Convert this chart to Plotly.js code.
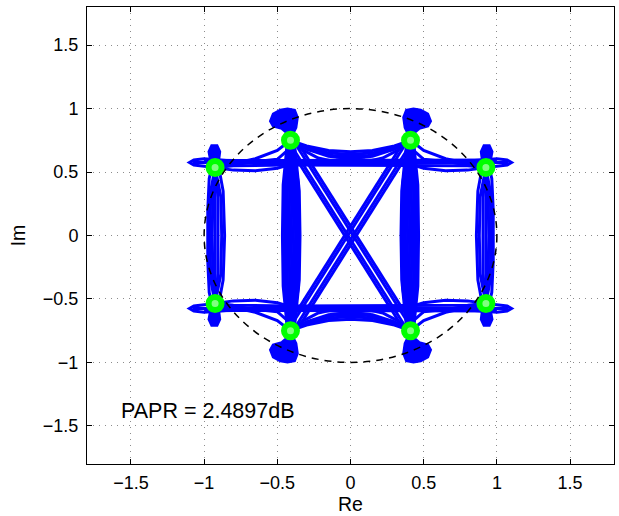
<!DOCTYPE html>
<html>
<head>
<meta charset="utf-8">
<script src="https://cdn.plot.ly/plotly-3.0.1.min.js"></script>
<style>
html,body{margin:0;padding:0;background:#fff;}
#chart{width:619px;height:516px;}
</style>
</head>
<body>
<div id="chart"></div>
<script>
// Constellation (symbol) points
const symbolRe = [-0.925, -0.41, 0.41, 0.925, -0.925, -0.41, 0.41, 0.925];
const symbolIm = [0.535, 0.75, 0.75, 0.535, -0.535, -0.75, -0.75, -0.535];

// Trajectory bundles (segments separated by null)
const innerVertRe = [
 -0.44,-0.43,-0.46,-0.465,-0.46,-0.43,-0.44,null,
 -0.42,-0.42,-0.445,-0.45,-0.445,-0.42,-0.42,null,
 -0.41,-0.43,-0.435,-0.43,-0.41,null,
 -0.40,-0.41,-0.415,-0.42,-0.415,-0.41,-0.40,null,
 -0.41,-0.40,-0.405,-0.40,-0.41,null,
 -0.39,-0.40,-0.385,-0.39,-0.385,-0.40,-0.39,null,
 -0.41,-0.37,-0.375,-0.37,-0.41,null,
 -0.40,-0.355,-0.36,-0.355,-0.40,null,
 -0.385,-0.35,-0.345,-0.35,-0.385,null,
 0.44,0.43,0.46,0.465,0.46,0.43,0.44,null,
 0.42,0.42,0.445,0.45,0.445,0.42,0.42,null,
 0.41,0.43,0.435,0.43,0.41,null,
 0.40,0.41,0.415,0.42,0.415,0.41,0.40,null,
 0.41,0.40,0.405,0.40,0.41,null,
 0.39,0.40,0.385,0.39,0.385,0.40,0.39,null,
 0.41,0.37,0.375,0.37,0.41,null,
 0.40,0.355,0.36,0.355,0.40,null,
 0.385,0.35,0.345,0.35,0.385
];
const innerVertIm = [
 0.92,0.75,0.4,0,-0.4,-0.75,-0.92,null,
 0.96,0.75,0.4,0,-0.4,-0.75,-0.96,null,
 0.75,0.4,0,-0.4,-0.75,null,
 0.90,0.75,0.4,0,-0.4,-0.75,-0.90,null,
 0.75,0.4,0,-0.4,-0.75,null,
 0.95,0.75,0.4,0,-0.4,-0.75,-0.95,null,
 0.75,0.4,0,-0.4,-0.75,null,
 0.75,0.4,0,-0.4,-0.75,null,
 0.75,0.35,0,-0.35,-0.75,null,
 0.92,0.75,0.4,0,-0.4,-0.75,-0.92,null,
 0.96,0.75,0.4,0,-0.4,-0.75,-0.96,null,
 0.75,0.4,0,-0.4,-0.75,null,
 0.90,0.75,0.4,0,-0.4,-0.75,-0.90,null,
 0.75,0.4,0,-0.4,-0.75,null,
 0.95,0.75,0.4,0,-0.4,-0.75,-0.95,null,
 0.75,0.4,0,-0.4,-0.75,null,
 0.75,0.4,0,-0.4,-0.75,null,
 0.75,0.35,0,-0.35,-0.75
];

const outerVertRe = [
 -0.93,-0.965,-0.975,-0.975,-0.965,-0.93,null,
 -0.925,-0.955,-0.96,-0.955,-0.925,null,
 -0.925,-0.94,-0.945,-0.94,-0.925,null,
 -0.925,-0.925,-0.925,null,
 -0.925,-0.905,-0.905,-0.905,-0.925,null,
 -0.925,-0.885,-0.88,-0.885,-0.925,null,
 -0.91,-0.87,-0.86,-0.87,-0.91,null,
 0.93,0.965,0.975,0.975,0.965,0.93,null,
 0.925,0.955,0.96,0.955,0.925,null,
 0.925,0.94,0.945,0.94,0.925,null,
 0.925,0.925,0.925,null,
 0.925,0.905,0.905,0.905,0.925,null,
 0.925,0.885,0.88,0.885,0.925,null,
 0.91,0.87,0.86,0.87,0.91
];
const outerVertIm = [
 0.62,0.45,0.2,-0.2,-0.45,-0.62,null,
 0.535,0.35,0,-0.35,-0.535,null,
 0.535,0.3,0,-0.3,-0.535,null,
 0.535,0,-0.535,null,
 0.535,0.3,0,-0.3,-0.535,null,
 0.535,0.3,0,-0.3,-0.535,null,
 0.60,0.35,0,-0.35,-0.60,null,
 0.62,0.45,0.2,-0.2,-0.45,-0.62,null,
 0.535,0.35,0,-0.35,-0.535,null,
 0.535,0.3,0,-0.3,-0.535,null,
 0.535,0,-0.535,null,
 0.535,0.3,0,-0.3,-0.535,null,
 0.535,0.3,0,-0.3,-0.535,null,
 0.60,0.35,0,-0.35,-0.60
];

const horizRe = [
 -1.08,-0.9,-0.41,0,0.41,0.9,1.08,null,
 -0.925,-0.8,-0.41,0,0.41,0.8,0.925,null,
 -1.0,-0.8,-0.41,0,0.41,0.8,1.0,null,
 -0.925,-0.8,-0.65,-0.5,-0.41,null,
 0.925,0.8,0.65,0.5,0.41,null,
 -0.925,-1.0,-1.07,-1.10,-1.07,-1.0,-0.93,-0.85,null,
 0.925,1.0,1.07,1.10,1.07,1.0,0.93,0.85,null,
 -0.41,-0.3,-0.15,0,0.15,0.3,0.41,null,
 -0.41,-0.3,-0.15,0,0.15,0.3,0.41,null,
 -0.41,-0.28,-0.12,0,0.12,0.28,0.41,null,
 -0.41,-0.3,-0.15,0.1,0.4,0.7,0.925,null,
 0.41,0.3,0.15,-0.1,-0.4,-0.7,-0.925,null,
 -0.41,-0.32,-0.22,-0.1,null,
 0.41,0.32,0.22,0.1,null,
 0.41,0.5,0.65,0.8,0.925,null,
 -0.41,-0.5,-0.65,-0.8,-0.925,null,
 -0.925,-0.7,-0.5,-0.44,-0.41,null,
 0.925,0.7,0.5,0.44,0.41,null,
 -1.08,-0.9,-0.41,0,0.41,0.9,1.08,null,
 -0.925,-0.8,-0.41,0,0.41,0.8,0.925,null,
 -1.0,-0.8,-0.41,0,0.41,0.8,1.0,null,
 -0.925,-0.8,-0.65,-0.5,-0.41,null,
 0.925,0.8,0.65,0.5,0.41,null,
 -0.925,-1.0,-1.07,-1.10,-1.07,-1.0,-0.93,-0.85,null,
 0.925,1.0,1.07,1.10,1.07,1.0,0.93,0.85,null,
 -0.41,-0.3,-0.15,0,0.15,0.3,0.41,null,
 -0.41,-0.3,-0.15,0,0.15,0.3,0.41,null,
 -0.41,-0.28,-0.12,0,0.12,0.28,0.41,null,
 -0.41,-0.3,-0.15,0.1,0.4,0.7,0.925,null,
 0.41,0.3,0.15,-0.1,-0.4,-0.7,-0.925,null,
 -0.41,-0.32,-0.22,-0.1,null,
 0.41,0.32,0.22,0.1,null,
 0.41,0.5,0.65,0.8,0.925,null,
 -0.41,-0.5,-0.65,-0.8,-0.925,null,
 -0.925,-0.7,-0.5,-0.44,-0.41,null,
 0.925,0.7,0.5,0.44,0.41
];
const horizIm = [
 0.575,0.575,0.575,0.575,0.575,0.575,0.575,null,
 0.535,0.55,0.555,0.555,0.555,0.55,0.535,null,
 0.595,0.59,0.59,0.59,0.59,0.59,0.595,null,
 0.535,0.515,0.51,0.53,0.56,null,
 0.535,0.515,0.51,0.53,0.56,null,
 0.535,0.545,0.555,0.575,0.595,0.605,0.60,0.59,null,
 0.535,0.545,0.555,0.575,0.595,0.605,0.60,0.59,null,
 0.75,0.705,0.67,0.66,0.67,0.705,0.75,null,
 0.75,0.69,0.65,0.64,0.65,0.69,0.75,null,
 0.75,0.675,0.63,0.622,0.63,0.675,0.75,null,
 0.75,0.68,0.625,0.595,0.585,0.575,0.535,null,
 0.75,0.68,0.625,0.595,0.585,0.575,0.535,null,
 0.75,0.67,0.61,0.58,null,
 0.75,0.67,0.61,0.58,null,
 0.75,0.67,0.605,0.57,0.535,null,
 0.75,0.67,0.605,0.57,0.535,null,
 0.535,0.575,0.60,0.66,0.75,null,
 0.535,0.575,0.60,0.66,0.75,null,
 -0.575,-0.575,-0.575,-0.575,-0.575,-0.575,-0.575,null,
 -0.535,-0.55,-0.555,-0.555,-0.555,-0.55,-0.535,null,
 -0.595,-0.59,-0.59,-0.59,-0.59,-0.59,-0.595,null,
 -0.535,-0.515,-0.51,-0.53,-0.56,null,
 -0.535,-0.515,-0.51,-0.53,-0.56,null,
 -0.535,-0.545,-0.555,-0.575,-0.595,-0.605,-0.60,-0.59,null,
 -0.535,-0.545,-0.555,-0.575,-0.595,-0.605,-0.60,-0.59,null,
 -0.75,-0.705,-0.67,-0.66,-0.67,-0.705,-0.75,null,
 -0.75,-0.69,-0.65,-0.64,-0.65,-0.69,-0.75,null,
 -0.75,-0.675,-0.63,-0.622,-0.63,-0.675,-0.75,null,
 -0.75,-0.68,-0.625,-0.595,-0.585,-0.575,-0.535,null,
 -0.75,-0.68,-0.625,-0.595,-0.585,-0.575,-0.535,null,
 -0.75,-0.67,-0.61,-0.58,null,
 -0.75,-0.67,-0.61,-0.58,null,
 -0.75,-0.67,-0.605,-0.57,-0.535,null,
 -0.75,-0.67,-0.605,-0.57,-0.535,null,
 -0.535,-0.575,-0.60,-0.66,-0.75,null,
 -0.535,-0.575,-0.60,-0.66,-0.75
];

const diagRe = [
 -0.45,0.37,null, -0.428,0.392,null, -0.392,0.428,null, -0.37,0.45,null,
 0.45,-0.37,null, 0.428,-0.392,null, 0.392,-0.428,null, 0.37,-0.45
];
const diagIm = [
 0.75,-0.75,null, 0.75,-0.75,null, 0.75,-0.75,null, 0.75,-0.75,null,
 0.75,-0.75,null, 0.75,-0.75,null, 0.75,-0.75,null, 0.75,-0.75
];

// Dense overshoot smears (filled)
const blobRe = [
 -0.40,-0.37,-0.36,-0.38,-0.43,-0.48,-0.53,-0.55,-0.53,-0.47,-0.43,-0.40,null,
 0.40,0.37,0.36,0.38,0.43,0.48,0.53,0.55,0.53,0.47,0.43,0.40,null,
 -0.40,-0.37,-0.36,-0.38,-0.43,-0.48,-0.53,-0.55,-0.53,-0.47,-0.43,-0.40,null,
 0.40,0.37,0.36,0.38,0.43,0.48,0.53,0.55,0.53,0.47,0.43,0.40,null,
 -0.90,-0.89,-0.91,-0.95,-0.97,-0.955,-0.90,null,
 0.90,0.89,0.91,0.95,0.97,0.955,0.90,null,
 -0.90,-0.89,-0.91,-0.95,-0.97,-0.955,-0.90,null,
 0.90,0.89,0.91,0.95,0.97,0.955,0.90
];
const blobIm = [
 0.78,0.85,0.93,0.99,1.00,0.99,0.96,0.90,0.86,0.84,0.80,0.78,null,
 0.78,0.85,0.93,0.99,1.00,0.99,0.96,0.90,0.86,0.84,0.80,0.78,null,
 -0.78,-0.85,-0.93,-0.99,-1.00,-0.99,-0.96,-0.90,-0.86,-0.84,-0.80,-0.78,null,
 -0.78,-0.85,-0.93,-0.99,-1.00,-0.99,-0.96,-0.90,-0.86,-0.84,-0.80,-0.78,null,
 0.57,0.66,0.71,0.71,0.66,0.57,0.57,null,
 0.57,0.66,0.71,0.71,0.66,0.57,0.57,null,
 -0.57,-0.66,-0.71,-0.71,-0.66,-0.57,-0.57,null,
 -0.57,-0.66,-0.71,-0.71,-0.66,-0.57,-0.57
];

const tickVals = [-1.5, -1, -0.5, 0, 0.5, 1, 1.5];
const tickText = ['\u22121.5', '\u22121', '\u22120.5', '0', '0.5', '1', '1.5'];
const paprLabel = 'PAPR = 2.4897dB';

const FONT = 'Liberation Sans, Arial, Helvetica, sans-serif';
const BLUE = '#0000ff';
const lineStyle = {color: BLUE, width: 3};

const traces = [
  {x: innerVertRe, y: innerVertIm, mode: 'lines', line: lineStyle, hoverinfo: 'skip'},
  {x: outerVertRe, y: outerVertIm, mode: 'lines', line: lineStyle, hoverinfo: 'skip'},
  {x: horizRe, y: horizIm, mode: 'lines', line: lineStyle, hoverinfo: 'skip'},
  {x: diagRe, y: diagIm, mode: 'lines', line: lineStyle, hoverinfo: 'skip'},
  {x: blobRe, y: blobIm, mode: 'lines', fill: 'toself', fillcolor: BLUE, line: {color: BLUE, width: 2}, hoverinfo: 'skip'},
  {x: symbolRe, y: symbolIm, mode: 'markers',
   marker: {symbol: 'circle', size: 13, color: '#80ff80', line: {color: '#00ff00', width: 6}},
   hoverinfo: 'skip'}
];

function axis(title) {
  return {
    range: [-1.8, 1.8],
    tickvals: tickVals,
    ticktext: tickText,
    ticks: 'inside',
    ticklen: 5,
    tickwidth: 1,
    tickcolor: '#000',
    showline: true,
    linecolor: '#000',
    linewidth: 1,
    mirror: 'ticks',
    zeroline: false,
    showgrid: true,
    gridcolor: '#8c8c8c',
    gridwidth: 1,
    griddash: '1px,5px',
    tickfont: {family: FONT, size: 18, color: '#000'},
    title: {text: title, font: {family: FONT, size: 19.5, color: '#000'}},
    fixedrange: true
  };
}

const xa = axis('Re');
xa.title.standoff = 3;
xa.ticklabelstandoff = 2;
const ya = axis('Im');
ya.title.standoff = 12;
ya.ticklabelstandoff = 4;

const layout = {
  width: 619, height: 516,
  margin: {l: 87, r: 5, t: 7, b: 52},
  paper_bgcolor: '#fff',
  plot_bgcolor: '#fff',
  showlegend: false,
  xaxis: xa,
  yaxis: ya,
  shapes: [{
    type: 'circle', xref: 'x', yref: 'y',
    x0: -1, x1: 1, y0: -1, y1: 1,
    line: {color: '#000', width: 1.5, dash: '7px,6px'},
    layer: 'above'
  }],
  annotations: [{
    text: paprLabel, xref: 'x', yref: 'y', x: -1.58, y: -1.38,
    xanchor: 'left', yanchor: 'middle', showarrow: false,
    font: {family: FONT, size: 21.5, color: '#000'}
  }]
};

Plotly.newPlot('chart', traces, layout, {staticPlot: true, displayModeBar: false});
</script>
</body>
</html>
